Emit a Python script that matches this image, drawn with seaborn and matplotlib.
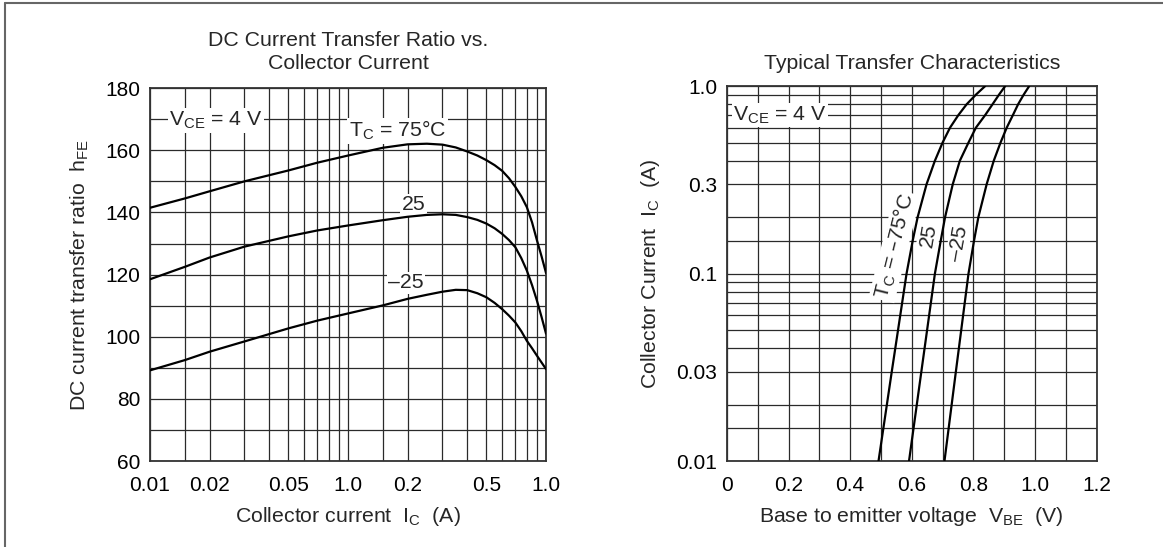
import numpy as np
import pandas as pd
import matplotlib
matplotlib.use("Agg")
import matplotlib.pyplot as plt
from matplotlib.lines import Line2D
import seaborn as sns

# ---------------- data ----------------
# Left chart: hFE vs collector current
ic_left = [0.01, 0.015, 0.02, 0.03, 0.05, 0.07, 0.1, 0.15, 0.2, 0.25, 0.3,
           0.35, 0.4, 0.45, 0.5, 0.55, 0.6, 0.65, 0.7, 0.75, 0.8, 0.85, 0.9,
           0.95, 1.0]
hfe_75 = [141.5, 144.5, 146.8, 150.0, 153.5, 156.0, 158.3, 160.8, 161.9, 162.1,
          161.8, 160.9, 159.6, 158.3, 156.8, 155.2, 153.4, 151.0, 148.2, 145.2,
          141.7, 136.8, 131.0, 125.8, 120.5]
hfe_25 = [118.5, 122.5, 125.5, 129.0, 132.3, 134.2, 135.8, 137.5, 138.6, 139.2,
          139.4, 139.2, 138.5, 137.6, 136.4, 134.9, 133.1, 131.1, 128.8, 125.3,
          121.3, 116.6, 111.6, 106.3, 101.0]
hfe_m25 = [89.2, 92.5, 95.2, 98.5, 102.7, 105.2, 107.5, 110.1, 112.2, 113.5,
           114.5, 115.1, 115.0, 114.0, 112.7, 110.9, 108.9, 106.8, 104.6, 101.8,
           98.7, 96.3, 93.9, 91.7, 89.6]
left_temps = ["75", "25", "-25"]
left_xticks = [0.01, 0.02, 0.05, 0.1, 0.2, 0.5, 1.0]
left_xticklabels = ["0.01", "0.02", "0.05", "1.0", "0.2", "0.5", "1.0"]
left_yticks = [60, 80, 100, 120, 140, 160, 180]

# Right chart: Ic vs VBE
ic_right = [0.01, 0.03, 0.1, 0.15, 0.2, 0.3, 0.4, 0.5, 0.6, 0.7, 0.8, 0.9, 1.0]
vbe_75 = [0.492, 0.535, 0.583, 0.603, 0.619, 0.648, 0.675, 0.700, 0.724, 0.751,
          0.778, 0.808, 0.838]
vbe_25 = [0.591, 0.631, 0.675, 0.694, 0.708, 0.733, 0.756, 0.784, 0.808, 0.838,
          0.862, 0.883, 0.903]
vbe_m25 = [0.706, 0.743, 0.784, 0.802, 0.816, 0.843, 0.866, 0.888, 0.908, 0.928,
           0.945, 0.963, 0.981]
right_xticks = [0, 0.2, 0.4, 0.6, 0.8, 1.0, 1.2]
right_xticklabels = ["0", "0.2", "0.4", "0.6", "0.8", "1.0", "1.2"]
right_yticks = [0.01, 0.03, 0.1, 0.3, 1.0]
right_yticklabels = ["0.01", "0.03", "0.1", "0.3", "1.0"]

df_left = pd.DataFrame({
    "Ic": ic_left * 3,
    "hFE": hfe_75 + hfe_25 + hfe_m25,
    "Tc": sum([[t] * len(ic_left) for t in left_temps], []),
})
df_right = pd.DataFrame({
    "Ic": ic_right * 3,
    "VBE": vbe_75 + vbe_25 + vbe_m25,
    "Tc": sum([[t] * len(ic_right) for t in left_temps], []),
})

# ---------------- style ----------------
sns.set_theme(style="white")
plt.rcParams["font.family"] = ["Liberation Sans", "DejaVu Sans"]
plt.rcParams["mathtext.default"] = "regular"
FS = 15.3     # titles / axis labels / annotations
TFS = 15      # tick labels
GRID = dict(color="#2a2a2a", linewidth=0.9)
black3 = {"75": "black", "25": "black", "-25": "black"}

fig = plt.figure(figsize=(11.63, 5.47), dpi=100)
axL = fig.add_axes([0.129, 0.157, 0.3405, 0.682])
axR = fig.add_axes([0.625, 0.157, 0.318, 0.6856])

# ---------------- left chart ----------------
sns.lineplot(data=df_left, x="Ic", y="hFE", hue="Tc", palette=black3,
             legend=False, ax=axL, linewidth=1.6, sort=False, zorder=5)
axL.set_xscale("log")
axL.set_xlim(0.01, 1.0)
axL.set_ylim(60, 180)
minor_left = [0.015, 0.03, 0.04, 0.06, 0.07, 0.08, 0.09, 0.15, 0.3, 0.4,
              0.6, 0.7, 0.8, 0.9]
axL.set_xticks(left_xticks)
axL.set_xticklabels(left_xticklabels)
axL.set_xticks(minor_left, minor=True)
axL.set_xticklabels([], minor=True)
axL.set_yticks(left_yticks)
axL.set_yticks(list(range(70, 180, 20)), minor=True)
axL.grid(True, which="both", **GRID)
axL.set_xlabel("Collector current  I$_C$  (A)", fontsize=FS, labelpad=7)
axL.set_ylabel("DC current transfer ratio  h$_{FE}$", fontsize=FS, labelpad=10)
axL.set_title("DC Current Transfer Ratio vs.\nCollector Current", fontsize=FS,
              pad=14, linespacing=1.25)

box = dict(facecolor="white", edgecolor="none", pad=1.0)
axL.text(0.0215, 169.6, "V$_{CE}$ = 4 V", fontsize=FS, ha="center", va="center",
         bbox=box, zorder=4)
axL.text(0.178, 166.3, "T$_C$ = 75°C", fontsize=FS, ha="center", va="center",
         bbox=box, zorder=4)
axL.text(0.215, 142.4, "25", fontsize=FS, ha="center", va="center",
         bbox=box, zorder=4)
axL.text(0.196, 117.4, "–25", fontsize=FS, ha="center", va="center",
         bbox=box, zorder=4)

# ---------------- right chart ----------------
sns.lineplot(data=df_right, x="VBE", y="Ic", hue="Tc", palette=black3,
             legend=False, ax=axR, linewidth=1.6, sort=False, zorder=5)
axR.set_yscale("log")
axR.set_xlim(0, 1.2)
axR.set_ylim(0.01, 1.0)
axR.set_xticks(right_xticks)
axR.set_xticklabels(right_xticklabels)
axR.set_xticks(np.arange(0.1, 1.2, 0.2), minor=True)
axR.set_yticks(right_yticks)
axR.set_yticklabels(right_yticklabels)
minor_right = [0.015, 0.02, 0.04, 0.05, 0.06, 0.07, 0.08, 0.09, 0.15, 0.2,
               0.4, 0.5, 0.6, 0.7, 0.8, 0.9]
axR.set_yticks(minor_right, minor=True)
axR.set_yticklabels([], minor=True)
axR.grid(True, which="both", **GRID)
axR.set_xlabel("Base to emitter voltage  V$_{BE}$  (V)", fontsize=FS, labelpad=7)
axR.set_ylabel("Collector Current  I$_C$  (A)", fontsize=FS, labelpad=10)
axR.set_title("Typical Transfer Characteristics", fontsize=FS, pad=12)

axR.text(0.172, 0.70, "V$_{CE}$ = 4 V", fontsize=FS, ha="center", va="center",
         bbox=box, zorder=4)
axR.text(0.545, 0.140, "T$_C$ = –75°C", fontsize=FS, ha="center", va="center",
         rotation=76, bbox=box, zorder=4)
axR.text(0.655, 0.160, "25", fontsize=FS, ha="center", va="center",
         rotation=80, bbox=box, zorder=4)
axR.text(0.752, 0.145, "–25", fontsize=FS, ha="center", va="center",
         rotation=80, bbox=box, zorder=4)

axL.tick_params(axis="x", which="both", pad=11)
axR.tick_params(axis="x", which="both", pad=11)
for ax in (axL, axR):
    ax.tick_params(axis="both", which="both", length=0, labelsize=TFS,
                   colors="black")
    ax.tick_params(axis="y", which="both", pad=7)
    for s in ax.spines.values():
        s.set_color("#333333")
        s.set_linewidth(1.3)
    ax.set_axisbelow(True)

# figure frame lines (top and left)
fig.add_artist(Line2D([0.0045, 1.0], [0.9945, 0.9945], color="#666666",
                      linewidth=1.5, transform=fig.transFigure))
fig.add_artist(Line2D([0.0045, 0.0045], [0.0, 0.9945], color="#666666",
                      linewidth=1.5, transform=fig.transFigure))

fig.savefig("out.png", dpi=100, facecolor="white")
